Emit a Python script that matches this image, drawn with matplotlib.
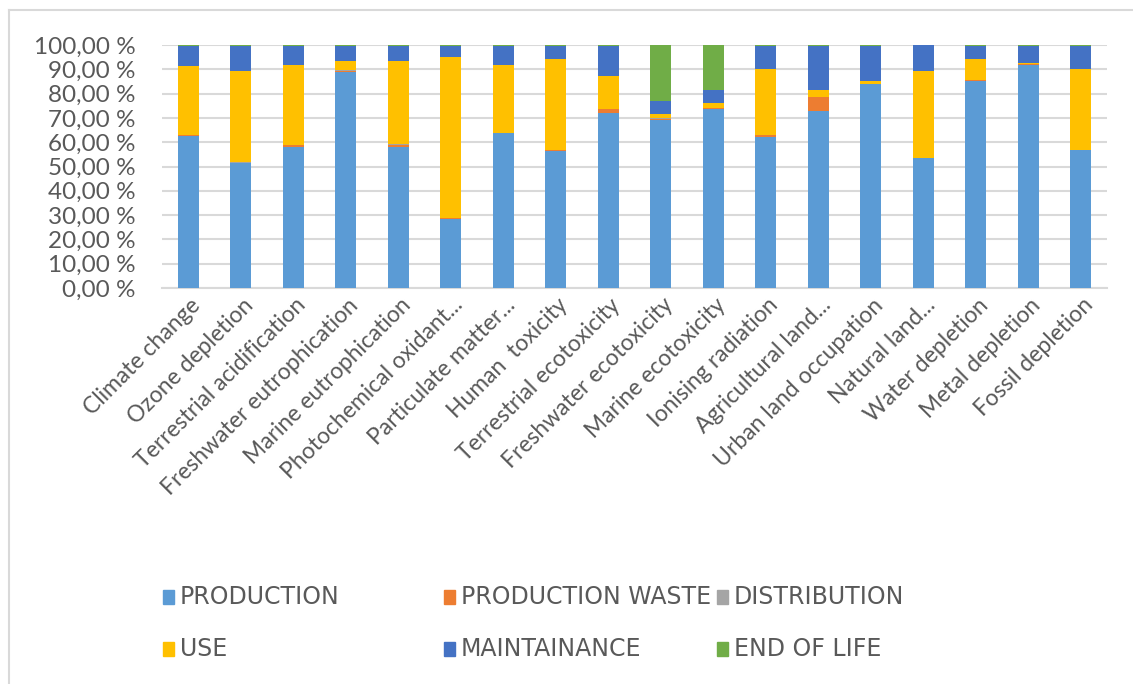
import matplotlib
matplotlib.use("Agg")
import matplotlib.pyplot as plt
import matplotlib.transforms as mtransforms
import numpy as np
from matplotlib.patches import Rectangle
from matplotlib.lines import Line2D

categories = ["Climate change", "Ozone depletion", "Terrestrial acidification",
              "Freshwater eutrophication", "Marine eutrophication",
              "Photochemical oxidant...", "Particulate matter...", "Human  toxicity",
              "Terrestrial ecotoxicity", "Freshwater ecotoxicity", "Marine ecotoxicity",
              "Ionising radiation", "Agricultural land...", "Urban land occupation",
              "Natural land...", "Water depletion", "Metal depletion", "Fossil depletion"]

production   = [62.6, 51.4, 58.2, 89.0, 57.9, 28.4, 63.7, 56.2, 72.2, 69.2, 73.6, 62.3, 72.9, 83.8, 53.7, 85.2, 92.0, 56.8]
prod_waste   = [0.5, 0.2, 0.6, 0.5, 1.0, 0.5, 0.2, 0.6, 1.3, 0.5, 0.4, 0.6, 5.6, 0.3, 0.0, 0.5, 0.1, 0.0]
distribution = [0.1, 0.1, 0.1, 0.1, 0.2, 0.1, 0.1, 0.1, 0.1, 0.1, 0.1, 0.1, 0.1, 0.1, 0.0, 0.1, 0.1, 0.1]
use          = [28.3, 37.8, 33.1, 3.7, 34.2, 66.2, 28.0, 37.2, 13.7, 1.9, 1.9, 27.1, 2.9, 1.1, 35.8, 8.3, 0.5, 33.2]
maintainance = [8.2, 10.2, 7.7, 6.4, 6.4, 4.5, 7.7, 5.6, 12.4, 5.1, 5.5, 9.6, 18.2, 14.4, 10.5, 5.6, 7.0, 9.6]
end_of_life  = [0.3, 0.3, 0.3, 0.3, 0.3, 0.3, 0.3, 0.3, 0.3, 23.2, 18.5, 0.3, 0.3, 0.3, 0.0, 0.3, 0.3, 0.3]

series_names = ["PRODUCTION", "PRODUCTION WASTE", "DISTRIBUTION", "USE", "MAINTAINANCE", "END OF LIFE"]
series = [production, prod_waste, distribution, use, maintainance, end_of_life]
colors = ["#5B9BD5", "#ED7D31", "#A5A5A5", "#FFC000", "#4472C4", "#70AD47"]

txt = "#595959"
grid = "#D9D9D9"

fig = plt.figure(figsize=(11.33, 6.84), dpi=100)
ax = fig.add_axes([0.143, 0.579, 0.834, 0.355])

x = np.arange(len(categories))
bottom = np.zeros(len(categories))
for vals, name, c in zip(series, series_names, colors):
    vals = np.array(vals)
    ax.bar(x, vals, 0.4, bottom=bottom, color=c, label=name, zorder=3)
    bottom += vals

ax.set_xlim(-0.5, len(categories) - 0.5)
ax.set_ylim(0, 100)
ticks = np.arange(0, 101, 10)
ax.set_yticks(ticks)
ax.set_yticklabels(["%d,00 %%" % t for t in ticks], fontsize=17.5, color=txt, family="Lato")
ax.yaxis.grid(True, color=grid, linewidth=1.5, zorder=0)
ax.set_xticks(x)
ax.set_xticklabels(categories, rotation=45, ha="right", va="center", rotation_mode="anchor",
                   fontsize=16.5, color=txt, family="Lato")
ax.tick_params(axis="both", length=0)
ax.tick_params(axis="x", pad=10)
ax.tick_params(axis="y", pad=19)
# nudge the rotated labels a little to the right, as in Excel
shift = mtransforms.ScaledTranslation(9 / 100, 0, fig.dpi_scale_trans)
for lbl in ax.get_xticklabels():
    lbl.set_transform(lbl.get_transform() + shift)
for s in ["top", "right", "left"]:
    ax.spines[s].set_visible(False)
ax.spines["bottom"].set_color(grid)
ax.spines["bottom"].set_linewidth(1.5)

# legend drawn by hand, row-major like Excel
W, H = 1133.0, 684.0
col_x = [163, 444, 717]
row_y = [597, 649]
for i, (name, c) in enumerate(zip(series_names, colors)):
    px = col_x[i % 3]
    py = row_y[i // 3]
    fig.add_artist(Rectangle((px / W, 1 - (py + 7) / H), 11 / W, 14 / H,
                             transform=fig.transFigure, color=c))
    fig.text((px + 17) / W, 1 - py / H, name, fontsize=17, color=txt, va="center",
             family=["Liberation Sans Narrow", "DejaVu Sans"])

# chart frame (top and left visible)
fig.add_artist(Line2D([9 / W, 9 / W], [0, 1 - 10 / H], transform=fig.transFigure,
                      color=grid, linewidth=1.5))
fig.add_artist(Line2D([9 / W, 1], [1 - 10 / H, 1 - 10 / H], transform=fig.transFigure,
                      color=grid, linewidth=1.5))

fig.savefig("out.png", dpi=100)
